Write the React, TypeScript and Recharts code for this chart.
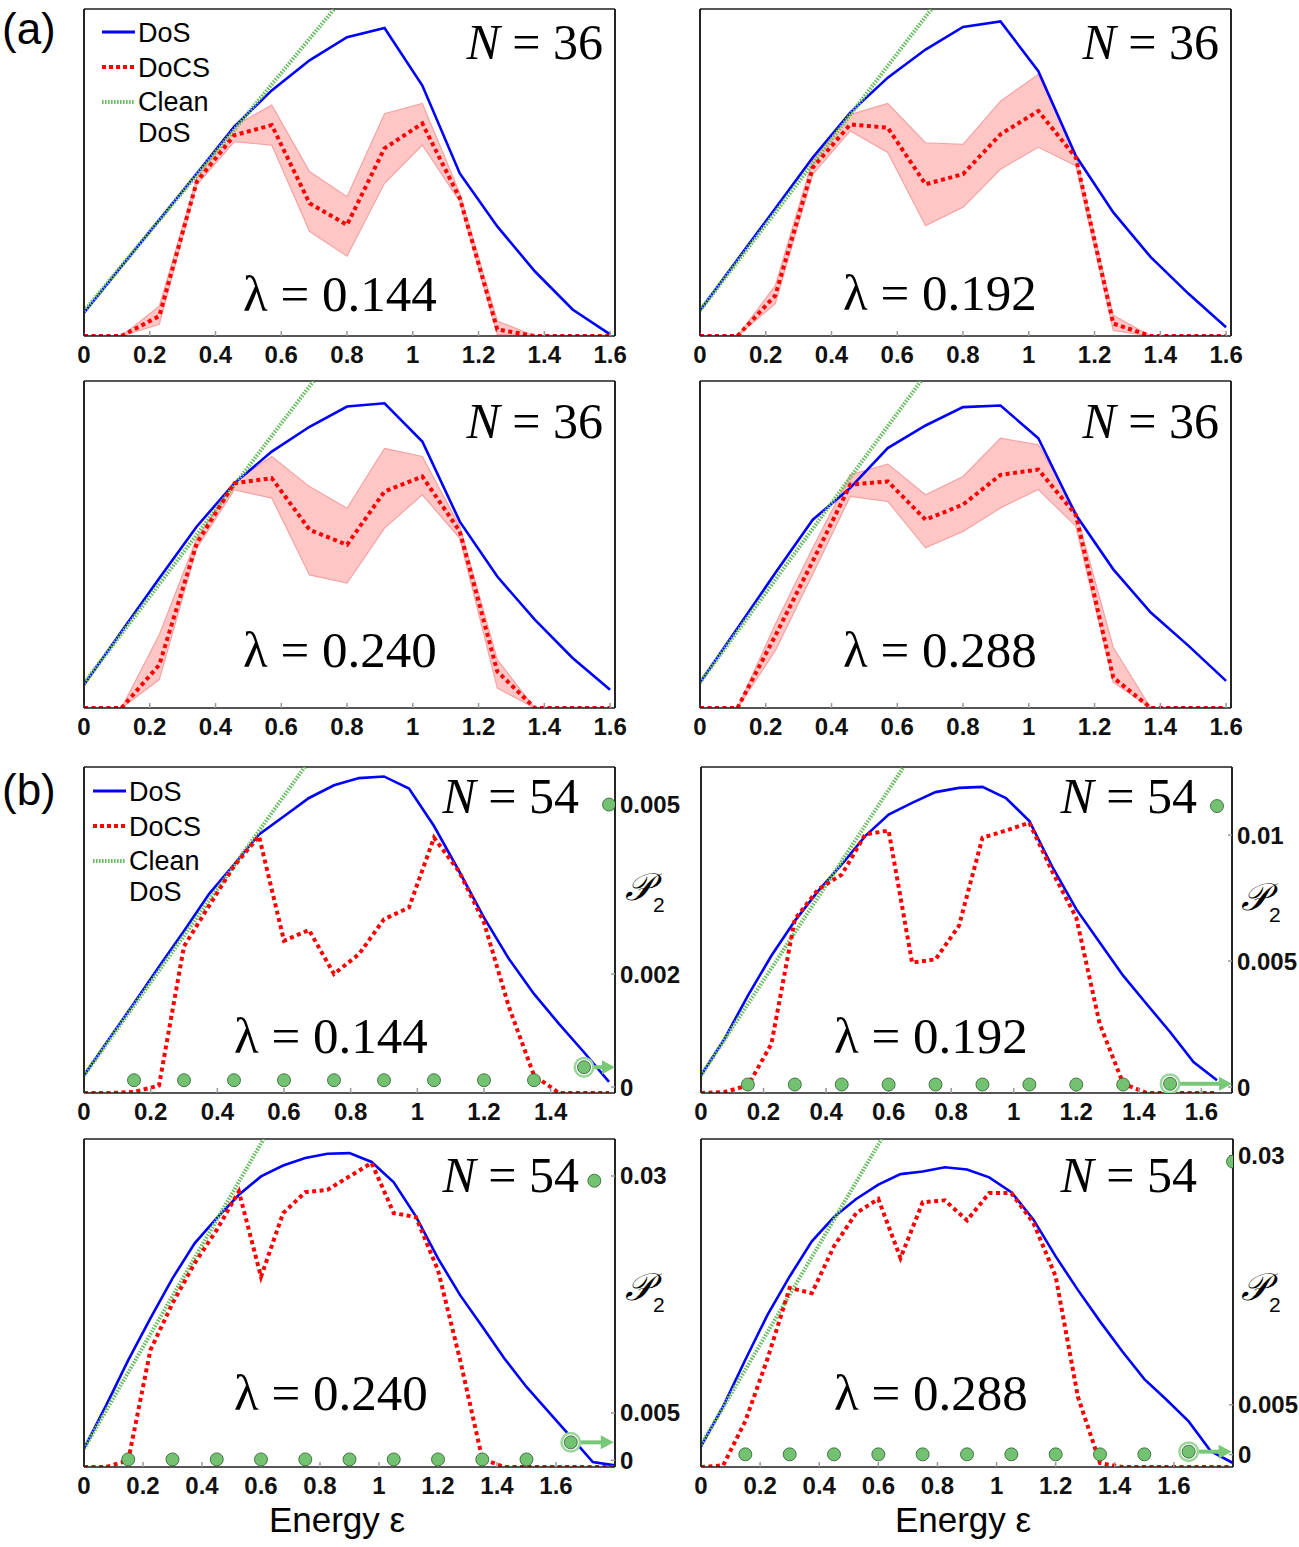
import { ComposedChart, Line, Area, Scatter, XAxis, YAxis, ReferenceLine } from 'recharts'

// energy grids: N = 36 runs use a step of 0.8/7, N = 54 runs a step of 0.075
const energiesN36 = [0, 0.114, 0.229, 0.343, 0.457, 0.571, 0.686, 0.8, 0.914, 1.029, 1.143, 1.257, 1.371, 1.486, 1.6]
const energiesN54 = [0, 0.075, 0.15, 0.225, 0.3, 0.375, 0.45, 0.525, 0.6, 0.675, 0.75, 0.825, 0.9, 0.975, 1.05, 1.125, 1.2, 1.275, 1.35, 1.425, 1.5, 1.575, 1.65, 1.725, 1.8]

const ticksA = [0, 0.2, 0.4, 0.6, 0.8, 1, 1.2, 1.4, 1.6]
const ticksB144 = [0, 0.2, 0.4, 0.6, 0.8, 1, 1.2, 1.4]

// (a) N = 36, DoS / DoCS with the spread over disorder realisations (arb. units, 0-100)
const dosA144 = [7.1, 21.3, 35.5, 49.7, 64, 75.1, 84.3, 91.4, 94.2, 76.6, 49.7, 33.5, 19.8, 8.1, 0.5]
const docsA144 = [0, 0, 6.1, 47.2, 61.4, 64.5, 40.6, 34, 57.4, 65, 42.1, 2, 0, 0, 0]
const docsLoA144 = [0, 0, 3.6, 46.2, 59.4, 58.4, 32, 24.4, 46.7, 58.4, 41.1, 0.5, 0, 0, 0]
const docsHiA144 = [0, 0, 9.1, 48.2, 64.2, 70.6, 50.3, 42.6, 68, 71.1, 43.7, 4.6, 0, 0, 0]
const cleanA144 = [{ e: 0, v: 7.6 }, { e: 0.761, v: 100 }]

const dosA192 = [7.8, 23.4, 39, 54.6, 68.3, 79, 87.6, 94.5, 96.2, 81, 55.1, 37.8, 24.1, 12.9, 2.7]
const docsA192 = [0, 0, 12.4, 51.5, 64.7, 63.7, 46.4, 49.5, 61.7, 68.8, 54.6, 3.8, 0, 0, 0]
const docsLoA192 = [0, 0, 9.9, 49.4, 62.7, 56.1, 33.7, 39.4, 51, 57.7, 52.1, 1.7, 0, 0, 0]
const docsHiA192 = [0, 0, 15.4, 54, 67.7, 71.1, 59.1, 58.6, 71.8, 80, 55.1, 6.3, 0, 0, 0]
const cleanA192 = [{ e: 0, v: 7.8 }, { e: 0.704, v: 100 }]

const dosA240 = [7.1, 23.4, 39.7, 55.5, 68.7, 78.4, 86, 92.2, 93.2, 81.5, 57, 40.2, 27, 15.3, 5.6]
const docsA240 = [0, 0, 13.2, 50.4, 68.7, 70.3, 54.5, 49.9, 66.2, 70.8, 54, 11.2, 0, 0, 0]
const docsLoA240 = [0, 0, 8.7, 48.9, 66.7, 64.2, 40.7, 38.2, 55, 65.2, 51.9, 6.1, 0, 0, 0]
const docsHiA240 = [0, 0, 22.4, 51.9, 69.2, 76.9, 67.7, 61.1, 79.4, 76.9, 55.5, 14.8, 0, 0, 0]
const cleanA240 = [{ e: 0, v: 7.6 }, { e: 0.698, v: 100 }]

const dosA288 = [7.8, 24.4, 41.3, 57.6, 67.3, 79.5, 86.4, 92, 92.5, 82.5, 59.1, 42.4, 29.2, 19, 8.3]
const docsA288 = [0, 0, 22.1, 44.9, 68.3, 69.3, 57.6, 62.2, 71.3, 72.9, 59.1, 9.3, 0, 0, 0]
const docsLoA288 = [0, 0, 17.5, 40.9, 64.7, 63.2, 49, 54, 61.2, 66.8, 55.6, 7.8, 0, 0, 0]
const docsHiA288 = [0, 0, 25.6, 49, 71.3, 74.6, 65.2, 70.8, 82.5, 80.5, 60.2, 18.5, 0, 0, 0]
const cleanA288 = [{ e: 0, v: 7.8 }, { e: 0.672, v: 100 }]

// (b) N = 54, single realisation plus participation ratio P2 (right axis)
const dosB144 = [5.4, 16.6, 27.5, 38.7, 49.7, 61, 70.1, 79.3, 84.9, 90.5, 94.4, 96.6, 97.1, 93.4, 81.9, 68.1, 53.8, 41.1, 30.4, 21.2, 12.5, 3.4]
const docsB144 = [0, 0, 0.3, 2.3, 45, 57.4, 69.6, 78.8, 46.7, 50, 36.5, 42.6, 53.3, 56.9, 78.3, 68, 52.3, 26.3, 5.4, 0, 0, 0]
const cleanB144 = [{ e: 0, v: 5.4 }, { e: 0.662, v: 100 }]
const p2B144 = [
  { e: 0.15, p: 0.00012 }, { e: 0.3, p: 0.00012 }, { e: 0.45, p: 0.00012 }, { e: 0.6, p: 0.00012 },
  { e: 0.75, p: 0.00012 }, { e: 0.9, p: 0.00012 }, { e: 1.05, p: 0.00012 }, { e: 1.2, p: 0.00012 },
  { e: 1.35, p: 0.00012 }, { e: 1.575, p: 0.005 },
]
const p2MarkB144 = [{ e: 1.5, p: 0.00035 }]

const dosB192 = [5.4, 16.6, 29.9, 42.1, 52.8, 62, 70.1, 78.8, 85.4, 89, 92.3, 93.6, 93.9, 90.5, 83.4, 69.1, 56.4, 46.2, 36, 27.3, 18.7, 9.5, 3.9]
const docsB192 = [0, 0.3, 2.3, 15, 53.3, 62.5, 67, 79.3, 80.5, 40, 41, 51.3, 78.3, 80.5, 82.9, 67.6, 53.8, 21.2, 2.9, 0, 0, 0, 0]
const cleanB192 = [{ e: 0, v: 5.4 }, { e: 0.648, v: 100 }]
const p2B192 = [
  { e: 0.15, p: 0.0001 }, { e: 0.3, p: 0.0001 }, { e: 0.45, p: 0.0001 }, { e: 0.6, p: 0.0001 },
  { e: 0.75, p: 0.0001 }, { e: 0.9, p: 0.0001 }, { e: 1.05, p: 0.0001 }, { e: 1.2, p: 0.0001 },
  { e: 1.35, p: 0.0001 }, { e: 1.65, p: 0.01115 },
]
const p2MarkB192 = [{ e: 1.5, p: 0.00013 }]

const dosB240 = [5.6, 18.8, 32.6, 45.3, 57.5, 68.2, 75.9, 83, 88.6, 91.9, 94.2, 95.5, 95.7, 93, 86.8, 76.4, 63.6, 52.4, 42.8, 33.1, 24.4, 16.8, 9.2, 1.5, 0.5]
const docsB240 = [0, 0, 2, 35.6, 49.9, 62.1, 72.3, 84, 58, 77.4, 83.8, 84.5, 88.6, 92.7, 77.4, 76.2, 60, 32.6, 2.5, 0, 0, 0, 0, 0, 0]
const cleanB240 = [{ e: 0, v: 5.6 }, { e: 0.609, v: 100 }]
const p2B240 = [
  { e: 0.15, p: 0.0001 }, { e: 0.3, p: 0.0001 }, { e: 0.45, p: 0.0001 }, { e: 0.6, p: 0.0001 },
  { e: 0.75, p: 0.0001 }, { e: 0.9, p: 0.0001 }, { e: 1.05, p: 0.0001 }, { e: 1.2, p: 0.0001 },
  { e: 1.35, p: 0.0001 }, { e: 1.5, p: 0.0001 }, { e: 1.73, p: 0.0295 },
]
const p2MarkB240 = [{ e: 1.65, p: 0.0019 }]

const dosB288 = [6.3, 18.5, 32.7, 46.4, 58.1, 68.8, 76.2, 81.7, 86.1, 89.3, 90.1, 91.4, 90.7, 88.3, 83.8, 75.4, 64.2, 54, 44.4, 35.3, 26.8, 20.5, 13.9, 4.8, 1.2]
const docsB288 = [0, 0.5, 14, 33, 54.6, 53, 67.3, 77.4, 81.7, 63.7, 80.7, 81.3, 75.2, 83.5, 83.5, 74.4, 58.1, 21.5, 1.2, 0, 0, 0, 0, 0, 0]
const cleanB288 = [{ e: 0, v: 6.8 }, { e: 0.611, v: 100 }]
const p2B288 = [
  { e: 0.15, p: 0.00003 }, { e: 0.3, p: 0.00003 }, { e: 0.45, p: 0.00003 }, { e: 0.6, p: 0.00003 },
  { e: 0.75, p: 0.00003 }, { e: 0.9, p: 0.00003 }, { e: 1.05, p: 0.00003 }, { e: 1.2, p: 0.00003 },
  { e: 1.35, p: 0.00003 }, { e: 1.5, p: 0.00003 }, { e: 1.8, p: 0.0294 },
]
const p2MarkB288 = [{ e: 1.65, p: 0.0003 }]

const BLUE = '#0000ff'
const RED = '#ff0000'
const CLEAN = '#69bd61'
const DOT = '#72c272'
const FRAME = { stroke: '#1c1c1c', strokeWidth: 1.6 }
const TICK_LINE = { stroke: '#9a9a9a', strokeWidth: 1.5 }
const tickFont = { fontFamily: 'Liberation Sans, Arial, sans-serif', fontSize: 24, fontWeight: 700, fill: '#111' }

function buildRows(energies: number[], dos: number[], docs: number[], lo?: number[], hi?: number[]) {
  return dos.map((d, i) => ({
    e: energies[i],
    dos: d,
    docs: docs[i],
    band: lo && hi ? [lo[i], hi[i]] : undefined,
  }))
}

function greenDot(props: any) {
  const { cx, cy } = props
  if (cx == null || cy == null) return <g />
  return <circle cx={cx} cy={cy} r={6.5} fill={DOT} stroke="#2f5a2f" strokeWidth={0.8} />
}

function markedDot(arrowLen: number) {
  return (props: any) => {
    const { cx, cy } = props
    if (cx == null || cy == null) return <g />
    const tip = cx + arrowLen
    return (
      <g>
        <line x1={cx + 9} y1={cy} x2={tip - 10} y2={cy} stroke="#78c878" strokeWidth={4} />
        <polygon points={`${tip},${cy} ${tip - 13},${cy - 7} ${tip - 13},${cy + 7}`} fill="#78c878" />
        <circle cx={cx} cy={cy} r={10.5} fill="#9ad69a" />
        <circle cx={cx} cy={cy} r={8} fill="#fff" />
        <circle cx={cx} cy={cy} r={6.5} fill={DOT} stroke="#2f5a2f" strokeWidth={0.8} />
      </g>
    )
  }
}

interface P2Axis {
  domain: [number, number]
  ticks: number[]
  dots: { e: number; p: number }[]
  mark: { e: number; p: number }[]
  arrowLen: number
}

interface PanelProps {
  left: number
  top: number
  w: number
  h: number
  xMax: number
  xTicks: number[]
  rows: any[]
  clean: { e: number; v: number }[]
  band?: boolean
  p2?: P2Axis
}

function Panel({ left, top, w, h, xMax, xTicks, rows, clean, band, p2 }: PanelProps) {
  const ML = 20
  const MT = 5
  const MR = p2 ? 90 : 30
  const XH = 45
  return (
    <div style={{ position: 'absolute', left: left - ML, top: top - MT }}>
      <ComposedChart width={w + ML + MR} height={h + MT + XH} data={rows} margin={{ top: MT, right: MR - 1, bottom: 0, left: ML - 1 }}>
        <XAxis
          dataKey="e"
          type="number"
          domain={[0, xMax]}
          allowDataOverflow
          ticks={xTicks}
          interval={0}
          tickFormatter={(v: number) => String(v)}
          tick={tickFont}
          tickLine={TICK_LINE}
          tickSize={-5}
          tickMargin={15}
          axisLine={FRAME}
          height={XH}
        />
        <YAxis yAxisId="dos" type="number" domain={[0, 100]} allowDataOverflow width={1} tick={false} tickLine={false} axisLine={FRAME} />
        {p2 ? (
          <YAxis
            yAxisId="p2"
            orientation="right"
            dataKey="p"
            type="number"
            domain={p2.domain}
            allowDataOverflow
            ticks={p2.ticks}
            interval={0}
            tickFormatter={(v: number) => String(v)}
            width={1}
            tick={tickFont}
            tickLine={TICK_LINE}
            tickSize={-4}
            tickMargin={9}
            axisLine={FRAME}
          />
        ) : (
          <YAxis yAxisId="p2" orientation="right" type="number" domain={[0, 1]} width={1} tick={false} tickLine={false} axisLine={FRAME} />
        )}
        <ReferenceLine yAxisId="dos" y={100} stroke={FRAME.stroke} strokeWidth={FRAME.strokeWidth} />
        <ReferenceLine yAxisId="dos" x={0} stroke={FRAME.stroke} strokeWidth={FRAME.strokeWidth} />
        <ReferenceLine yAxisId="dos" x={xMax} stroke={FRAME.stroke} strokeWidth={FRAME.strokeWidth} />
        {band && (
          <Area
            yAxisId="dos"
            type="linear"
            dataKey="band"
            stroke="#f5a3a3"
            strokeWidth={1.2}
            fill="#ffc6c6"
            fillOpacity={1}
            dot={false}
            activeDot={false}
            isAnimationActive={false}
          />
        )}
        <Line yAxisId="dos" type="linear" dataKey="dos" stroke={BLUE} strokeWidth={2.6} dot={false} activeDot={false} isAnimationActive={false} />
        <Line
          yAxisId="dos"
          type="linear"
          data={clean}
          dataKey="v"
          stroke={CLEAN}
          strokeWidth={4}
          strokeDasharray="1.6 1.4"
          dot={false}
          activeDot={false}
          isAnimationActive={false}
        />
        <Line
          yAxisId="dos"
          type="linear"
          dataKey="docs"
          stroke={RED}
          strokeWidth={4}
          strokeDasharray="4 3.5"
          dot={false}
          activeDot={false}
          isAnimationActive={false}
        />
        {p2 && <Scatter yAxisId="p2" data={p2.dots} dataKey="p" shape={greenDot} isAnimationActive={false} />}
        {p2 && <Scatter yAxisId="p2" data={p2.mark} dataKey="p" shape={markedDot(p2.arrowLen)} isAnimationActive={false} />}
      </ComposedChart>
    </div>
  )
}

const serif = 'Liberation Serif, Times New Roman, serif'
const sans = 'Liberation Sans, Arial, sans-serif'

function NLabel({ x, y, n }: { x: number; y: number; n: number }) {
  return (
    <text x={x} y={y} textAnchor="end" fontFamily={serif} fontSize={50} fill="#000">
      <tspan fontStyle="italic">N</tspan> = {n}
    </text>
  )
}

function LambdaLabel({ x, y, value }: { x: number; y: number; value: string }) {
  return (
    <text x={x} y={y} fontFamily={serif} fontSize={51} fill="#000">
      λ = {value}
    </text>
  )
}

function P2Label({ x, y }: { x: number; y: number }) {
  return (
    <text x={x} y={y} fontFamily="DejaVu Serif, serif" fill="#000">
      <tspan fontStyle="italic" fontSize={38}>𝒫</tspan>
      <tspan fontFamily={sans} fontSize={21} dx={1} dy={12}>2</tspan>
    </text>
  )
}

function LegendBlock({ x, y }: { x: number; y: number }) {
  // y = vertical centre of the first entry
  const items = [
    { label: 'DoS', stroke: BLUE, dash: undefined, w: 3 },
    { label: 'DoCS', stroke: RED, dash: '4 3', w: 4 },
  ]
  return (
    <g>
      {items.map((it, i) => (
        <g key={it.label}>
          <line x1={x} y1={y + i * 35} x2={x + 33} y2={y + i * 35} stroke={it.stroke} strokeWidth={it.w} strokeDasharray={it.dash} />
          <text x={x + 36} y={y + i * 35 + 10} fontFamily={sans} fontSize={27} fill="#000">{it.label}</text>
        </g>
      ))}
      <line x1={x} y1={y + 70} x2={x + 33} y2={y + 70} stroke={CLEAN} strokeWidth={4} strokeDasharray="1.6 1.4" />
      <text x={x + 36} y={y + 69 + 10} fontFamily={sans} fontSize={27} fill="#000">Clean</text>
      <text x={x + 36} y={y + 100 + 10} fontFamily={sans} fontSize={27} fill="#000">DoS</text>
    </g>
  )
}

export default function App() {
  return (
    <div style={{ position: 'absolute', left: 0, top: 0, width: 1299, height: 1547, background: '#fff', overflow: 'hidden' }}>
      <Panel left={84} top={9} w={531} h={327} xMax={1.615} xTicks={ticksA} band clean={cleanA144}
        rows={buildRows(energiesN36, dosA144, docsA144, docsLoA144, docsHiA144)} />
      <Panel left={700} top={9} w={531} h={327} xMax={1.615} xTicks={ticksA} band clean={cleanA192}
        rows={buildRows(energiesN36, dosA192, docsA192, docsLoA192, docsHiA192)} />
      <Panel left={84} top={381} w={531} h={327} xMax={1.615} xTicks={ticksA} band clean={cleanA240}
        rows={buildRows(energiesN36, dosA240, docsA240, docsLoA240, docsHiA240)} />
      <Panel left={700} top={381} w={531} h={327} xMax={1.615} xTicks={ticksA} band clean={cleanA288}
        rows={buildRows(energiesN36, dosA288, docsA288, docsLoA288, docsHiA288)} />

      <Panel left={84} top={767} w={531} h={326} xMax={1.593} xTicks={ticksB144} clean={cleanB144}
        rows={buildRows(energiesN54, dosB144, docsB144)}
        p2={{ domain: [-0.000106, 0.005665], ticks: [0, 0.002, 0.005], dots: p2B144, mark: p2MarkB144, arrowLen: 31 }} />
      <Panel left={701} top={767} w={531} h={326} xMax={1.698} xTicks={ticksA} clean={cleanB192}
        rows={buildRows(energiesN54, dosB192, docsB192)}
        p2={{ domain: [-0.000237, 0.0127], ticks: [0, 0.005, 0.01], dots: p2B192, mark: p2MarkB192, arrowLen: 62 }} />
      <Panel left={84} top={1139} w={531} h={328} xMax={1.8} xTicks={ticksA} clean={cleanB240}
        rows={buildRows(energiesN54, dosB240, docsB240)}
        p2={{ domain: [-0.0007, 0.0339], ticks: [0, 0.005, 0.03], dots: p2B240, mark: p2MarkB240, arrowLen: 43 }} />
      <Panel left={701} top={1139} w={532} h={328} xMax={1.8} xTicks={ticksA} clean={cleanB288}
        rows={buildRows(energiesN54, dosB288, docsB288)}
        p2={{ domain: [-0.00124, 0.03167], ticks: [0, 0.005, 0.03], dots: p2B288, mark: p2MarkB288, arrowLen: 43 }} />

      <svg width={1299} height={1547} style={{ position: 'absolute', left: 0, top: 0, pointerEvents: 'none' }}>
        <text x={2} y={44} fontFamily={sans} fontSize={44} fill="#000">(a)</text>
        <text x={2} y={805} fontFamily={sans} fontSize={44} fill="#000">(b)</text>

        <LegendBlock x={102} y={32} />
        <LegendBlock x={93} y={791} />

        <NLabel x={603} y={59} n={36} />
        <NLabel x={1219} y={59} n={36} />
        <NLabel x={603} y={438} n={36} />
        <NLabel x={1219} y={438} n={36} />
        <NLabel x={579} y={813} n={54} />
        <NLabel x={1197} y={813} n={54} />
        <NLabel x={579} y={1192} n={54} />
        <NLabel x={1197} y={1192} n={54} />

        <LambdaLabel x={243} y={311} value="0.144" />
        <LambdaLabel x={843} y={310} value="0.192" />
        <LambdaLabel x={243} y={667} value="0.240" />
        <LambdaLabel x={843} y={667} value="0.288" />
        <LambdaLabel x={234} y={1053} value="0.144" />
        <LambdaLabel x={834} y={1053} value="0.192" />
        <LambdaLabel x={234} y={1410} value="0.240" />
        <LambdaLabel x={834} y={1410} value="0.288" />

        <P2Label x={625} y={900} />
        <P2Label x={1241} y={910} />
        <P2Label x={625} y={1300} />
        <P2Label x={1241} y={1300} />

        <text x={337} y={1532} textAnchor="middle" fontFamily={sans} fontSize={35} fill="#000">Energy ε</text>
        <text x={963} y={1532} textAnchor="middle" fontFamily={sans} fontSize={35} fill="#000">Energy ε</text>
      </svg>
    </div>
  )
}
